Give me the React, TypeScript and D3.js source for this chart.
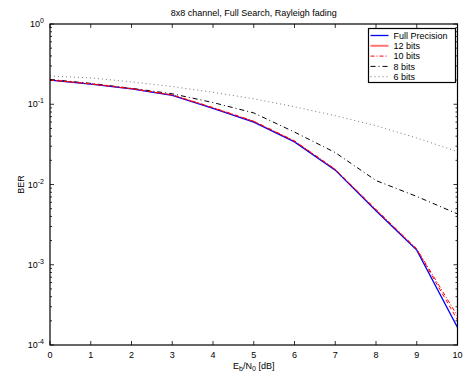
import React from "react";
import * as d3 from "d3";

const snr = [0, 1, 2, 3, 4, 5, 6, 7, 8, 9, 10];
const fullPrecision = [0.2, 0.178, 0.155, 0.129, 0.089, 0.060, 0.034, 0.0151, 0.0047, 0.00152, 0.000166];
const bits12 = [0.2, 0.179, 0.156, 0.130, 0.090, 0.061, 0.0345, 0.0154, 0.0048, 0.00156, 0.000205];
const bits10 = [0.201, 0.18, 0.157, 0.131, 0.091, 0.0615, 0.035, 0.0155, 0.0049, 0.00158, 0.00023];
const bits8 = [0.204, 0.182, 0.158, 0.135, 0.105, 0.078, 0.045, 0.025, 0.0112, 0.0071, 0.0043];
const bits6 = [0.225, 0.213, 0.19, 0.166, 0.141, 0.117, 0.093, 0.072, 0.054, 0.038, 0.0257];
const seriesNames = ["Full Precision", "12 bits", "10 bits", "8 bits", "6 bits"];
const yTickExps = [0, -1, -2, -3, -4];

const W = 464, H = 375;
const L = 50, R = 457.5, T = 24, B = 345;
const FONT = "'Liberation Sans', Arial, Helvetica, sans-serif";

export default function App() {
  const x = d3.scaleLinear().domain([0, 10]).range([L, R]);
  const y = d3.scaleLog().domain([1e-4, 1]).range([B, T]);
  const line = d3.line<[number, number]>().x(d => x(d[0])).y(d => y(d[1]));
  const mk = (vals: number[]) => line(snr.map((s, i) => [s, vals[i]] as [number, number])) || "";

  const styles = [
    { vals: fullPrecision, stroke: "#0000ff", width: 1.3, dash: "" },
    { vals: bits12, stroke: "#ff0000", width: 1, dash: "4,3" },
    { vals: bits10, stroke: "#ff0000", width: 1, dash: "4,2,1,2" },
    { vals: bits8, stroke: "#000000", width: 1, dash: "5,3,1,3" },
    { vals: bits6, stroke: "#555555", width: 0.8, dash: "1,3" },
  ];
  const drawOrder = [4, 3, 0, 2, 1];

  const minor: number[] = [];
  for (let e = -4; e < 0; e++) for (let m = 2; m <= 9; m++) minor.push(m * Math.pow(10, e));

  const legX = 368.5, legY = 28.5, legW = 87, legH = 54;

  return (
    <svg width={W} height={H} style={{ position: "absolute", left: 0, top: 0, background: "#fff" }} fontFamily={FONT}>
      <rect x={0} y={0} width={W} height={H} fill="#fff" />
      <text x={(L + R) / 2} y={16} fontSize={9} textAnchor="middle">8x8 channel, Full Search, Rayleigh fading</text>
      <clipPath id="pc"><rect x={L} y={T} width={R - L} height={B - T} /></clipPath>
      <g clipPath="url(#pc)">
        {drawOrder.map(i => (
          <path key={i} d={mk(styles[i].vals)} fill="none" stroke={styles[i].stroke}
            strokeWidth={styles[i].width} strokeDasharray={styles[i].dash || undefined} />
        ))}
      </g>
      {/* ticks */}
      <g stroke="#000" strokeWidth={0.8}>
        {snr.map(s => (
          <g key={s}>
            <line x1={x(s)} x2={x(s)} y1={B} y2={B - 4} />
            <line x1={x(s)} x2={x(s)} y1={T} y2={T + 4} />
          </g>
        ))}
        {yTickExps.map(e => (
          <g key={e}>
            <line x1={L} x2={L + 4} y1={y(Math.pow(10, e))} y2={y(Math.pow(10, e))} />
            <line x1={R} x2={R - 4} y1={y(Math.pow(10, e))} y2={y(Math.pow(10, e))} />
          </g>
        ))}
        {minor.map((v, i) => (
          <g key={i}>
            <line x1={L} x2={L + 2} y1={y(v)} y2={y(v)} />
            <line x1={R} x2={R - 2} y1={y(v)} y2={y(v)} />
          </g>
        ))}
      </g>
      <rect x={L} y={T} width={R - L} height={B - T} fill="none" stroke="#000" strokeWidth={1.2} />
      {snr.map(s => (
        <text key={s} x={x(s)} y={358} fontSize={9} textAnchor="middle">{s}</text>
      ))}
      {yTickExps.map(e => (
        <text key={e} x={L - 6} y={y(Math.pow(10, e)) + 3} fontSize={9} textAnchor="end">
          10<tspan dy={-4} fontSize={7}>{e}</tspan>
        </text>
      ))}
      <text x={L - 6} y={0} fontSize={9} visibility="hidden">.</text>
      <text transform={`translate(24,${(T + B) / 2}) rotate(-90)`} fontSize={9} textAnchor="middle">BER</text>
      <text x={(L + R) / 2} y={369} fontSize={9} textAnchor="middle">
        E<tspan dy={2} fontSize={7}>b</tspan><tspan dy={-2}>/N</tspan><tspan dy={2} fontSize={7}>0</tspan><tspan dy={-2}> [dB]</tspan>
      </text>
      {/* legend */}
      <rect x={legX} y={legY} width={legW} height={legH} fill="#fff" stroke="#000" strokeWidth={1.2} />
      {seriesNames.map((n, i) => {
        const ly = legY + 7 + i * 10.3;
        return (
          <g key={n}>
            <line x1={legX + 2} x2={legX + 20} y1={ly} y2={ly} stroke={styles[i].stroke}
              strokeWidth={i === 1 ? 2 : styles[i].width} strokeOpacity={i === 1 ? 0.55 : 1}
              strokeDasharray={i === 1 ? undefined : styles[i].dash || undefined} />
            <text x={legX + 25} y={ly + 3.2} fontSize={9}>{n}</text>
          </g>
        );
      })}
    </svg>
  );
}
